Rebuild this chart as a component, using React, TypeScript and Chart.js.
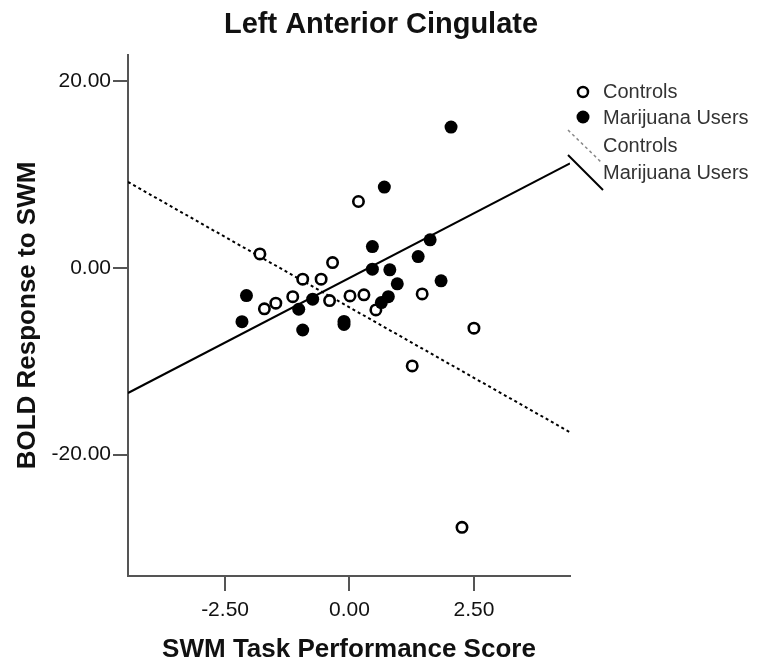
import React, { useEffect, useRef } from "react";
import { Chart, registerables } from "chart.js";

Chart.register(...registerables);

// Controls (open circles)
const controlsX = [-1.8, 0.18, -0.34, -0.94, -0.57, -1.14, -0.4, 0.01, 0.29, 1.46, 0.53, -1.48, -1.71, 2.5, 1.26, 2.26];
const controlsY = [1.5, 7.11, 0.57, -1.21, -1.21, -3.08, -3.5, -3.0, -2.89, -2.79, -4.5, -3.78, -4.39, -6.46, -10.5, -27.79];

// Marijuana users (filled circles)
const usersX = [2.04, 0.7, 0.46, 1.62, 1.38, 0.46, 0.81, 0.96, 1.84, -2.07, -0.74, 0.78, 0.64, -1.02, -2.16, -0.94, -0.11, -0.11];
const usersY = [15.08, 8.65, 2.28, 3.0, 1.21, -0.14, -0.21, -1.71, -1.39, -2.97, -3.35, -3.08, -3.72, -4.43, -5.76, -6.65, -5.73, -6.06];

// Fit lines
const fitX = [-4.45, 4.43];
const controlsFitY = [9.2, -17.6];
const usersFitY = [-13.4, 11.2];

const xTicks = [-2.5, 0, 2.5];
const yTicks = [-20, 0, 20];
const legendLabels = ["Controls", "Marijuana Users", "Controls", "Marijuana Users"];

const FONT = '"Liberation Sans", Arial, sans-serif';

const toPts = (xs: number[], ys: number[]) => xs.map((x, i) => ({ x, y: ys[i] }));

const legendPlugin = {
  id: "customLegend",
  afterDraw(chart: any) {
    const { ctx, chartArea } = chart;
    const r = chartArea.right;
    const t = chartArea.top;
    ctx.save();
    // open circle marker
    ctx.beginPath();
    ctx.arc(r + 13, t + 37, 5, 0, Math.PI * 2);
    ctx.fillStyle = "#fff";
    ctx.fill();
    ctx.lineWidth = 2.5;
    ctx.strokeStyle = "#000";
    ctx.stroke();
    // filled circle marker
    ctx.beginPath();
    ctx.arc(r + 13, t + 62, 6.5, 0, Math.PI * 2);
    ctx.fillStyle = "#000";
    ctx.fill();
    // dashed line symbol
    ctx.setLineDash([3, 3]);
    ctx.strokeStyle = "#888";
    ctx.lineWidth = 1.5;
    ctx.beginPath();
    ctx.moveTo(r - 2, t + 75);
    ctx.lineTo(r + 32, t + 108);
    ctx.stroke();
    // solid line symbol
    ctx.setLineDash([]);
    ctx.strokeStyle = "#000";
    ctx.lineWidth = 2;
    ctx.beginPath();
    ctx.moveTo(r - 2, t + 100);
    ctx.lineTo(r + 33, t + 135);
    ctx.stroke();
    // labels
    ctx.font = `20px ${FONT}`;
    ctx.fillStyle = "#333";
    ctx.textBaseline = "middle";
    ctx.textAlign = "left";
    const ys = [37, 63, 91, 118];
    legendLabels.forEach((l, i) => ctx.fillText(l, r + 33, t + ys[i]));
    ctx.restore();
  },
};

export default function App() {
  const ref = useRef<HTMLCanvasElement | null>(null);

  useEffect(() => {
    if (!ref.current) return;
    const chart = new Chart(ref.current, {
      type: "scatter",
      data: {
        datasets: [
          {
            label: "Controls",
            data: toPts(controlsX, controlsY),
            pointRadius: 5.2,
            pointBorderWidth: 2.6,
            pointBackgroundColor: "#fff",
            pointBorderColor: "#000",
            order: 1,
          } as any,
          {
            label: "Marijuana Users",
            data: toPts(usersX, usersY),
            pointRadius: 6.5,
            pointBorderWidth: 0,
            pointBackgroundColor: "#000",
            pointBorderColor: "#000",
            order: 0,
          } as any,
          {
            type: "line",
            label: "Controls fit",
            data: toPts(fitX, controlsFitY),
            borderColor: "#000",
            borderWidth: 2,
            borderDash: [3, 3],
            pointRadius: 0,
            fill: false,
            order: 3,
          } as any,
          {
            type: "line",
            label: "Marijuana Users fit",
            data: toPts(fitX, usersFitY),
            borderColor: "#000",
            borderWidth: 2,
            pointRadius: 0,
            fill: false,
            order: 2,
          } as any,
        ],
      },
      options: {
        animation: false,
        responsive: true,
        maintainAspectRatio: false,
        layout: { padding: 0 },
        plugins: {
          legend: { display: false },
          tooltip: { enabled: false },
          title: {
            display: true,
            text: "Left Anterior Cingulate",
            color: "#111",
            font: { family: FONT, size: 29, weight: "bold" },
            padding: { top: 8, bottom: 12.2 },
          },
        },
        scales: {
          x: {
            type: "linear",
            position: "bottom",
            min: -4.45,
            max: 4.43,
            afterBuildTicks: (s: any) => {
              s.ticks = xTicks.map((v) => ({ value: v }));
            },
            afterFit: (s: any) => {
              s.height = 96;
            },
            ticks: {
              callback: (v: any) => Number(v).toFixed(2),
              color: "#111",
              font: { family: FONT, size: 21 },
              padding: 7,
              autoSkip: false,
              maxRotation: 0,
            },
            grid: { drawOnChartArea: false, drawTicks: true, tickLength: 15, color: "#555", lineWidth: 2 },
            border: { display: true, color: "#555", width: 2 },
            title: {
              display: true,
              text: "SWM Task Performance Score",
              color: "#111",
              font: { family: FONT, size: 26, weight: "bold" },
              padding: { top: 0, bottom: 7 },
            },
          },
          y: {
            type: "linear",
            position: "left",
            min: -33,
            max: 22.8,
            afterBuildTicks: (s: any) => {
              s.ticks = yTicks.map((v) => ({ value: v }));
            },
            afterFit: (s: any) => {
              s.width = 128;
            },
            ticks: {
              callback: (v: any) => Number(v).toFixed(2),
              color: "#111",
              font: { family: FONT, size: 21 },
              padding: 2,
              autoSkip: false,
            },
            grid: { drawOnChartArea: false, drawTicks: true, tickLength: 15, color: "#555", lineWidth: 2 },
            border: { display: true, color: "#555", width: 2 },
            title: {
              display: true,
              text: "BOLD Response to SWM",
              color: "#111",
              font: { family: FONT, size: 26, weight: "bold" },
              padding: { top: 12, bottom: 0 },
            },
          },
          y2: {
            type: "linear",
            position: "right",
            display: true,
            afterFit: (s: any) => {
              s.width = 192;
            },
            ticks: { display: false },
            grid: { display: false, drawTicks: false },
            border: { display: false },
          },
        },
      },
      plugins: [legendPlugin],
    });
    return () => chart.destroy();
  }, []);

  return (
    <div style={{ position: "fixed", left: 0, top: 0, width: 762, height: 672, background: "#fff" }}>
      <canvas ref={ref} />
    </div>
  );
}
